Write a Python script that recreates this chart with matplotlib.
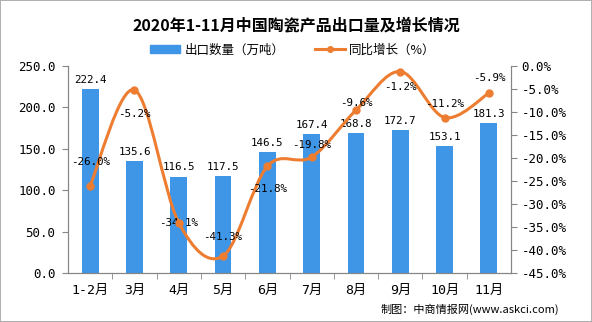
import matplotlib.pyplot as plt
from matplotlib.path import Path
from matplotlib.patches import PathPatch, Patch
from matplotlib.lines import Line2D

plt.rcParams['font.family'] = ['DejaVu Sans Mono', 'Noto Sans CJK SC']

months = ['1-2月', '3月', '4月', '5月', '6月', '7月', '8月', '9月', '10月', '11月']
export_qty = [222.4, 135.6, 116.5, 117.5, 146.5, 167.4, 168.8, 172.7, 153.1, 181.3]
yoy_growth = [-26.0, -5.2, -34.1, -41.3, -21.8, -19.8, -9.6, -1.2, -11.2, -5.9]

# label nudges (points) for the percent labels, as placed in the original
pct_dy = [17, -17, 0, 14, -16, 9, 5, -11, 10, 11]

bar_color = '#3f95e6'
line_color = '#ed7d31'
cjk = ['Noto Sans CJK SC', 'DejaVu Sans']

fig = plt.figure(figsize=(5.92, 3.22), dpi=100, linewidth=1.2, edgecolor='#b0b0b0')
ax = fig.add_axes([0.1149, 0.1522, 0.7483, 0.6428])
ax2 = ax.twinx()

x = list(range(len(months)))
ax.bar(x, export_qty, width=0.38, color=bar_color, zorder=2)
for xi, v in zip(x, export_qty):
    ax.annotate(f'{v:.1f}', (xi, v), xytext=(0, 3), textcoords='offset points',
                ha='center', va='bottom', fontsize=7.8)

ax.set_ylim(0, 250)
ax.set_yticks(range(0, 251, 50))
ax.set_yticklabels([f'{v:.1f}' for v in range(0, 251, 50)], fontsize=9)
ax.set_xlim(-0.5, len(months) - 0.5)
ax.set_xticks(x)
ax.set_xticklabels(months, fontsize=9.5)
ax.set_xticks([i + 0.5 for i in x[:-1]], minor=True)
ax.tick_params(axis='x', which='major', length=0, pad=8)
ax.tick_params(axis='x', which='minor', length=4, color='#868686')
ax.tick_params(axis='y', length=4, color='#868686', pad=5)

# smoothed line (bezier through the points)
pts = list(zip(x, yoy_growth))
verts = [pts[0]]
codes = [Path.MOVETO]
n = len(pts)
for i in range(n - 1):
    p0 = pts[i - 1] if i > 0 else pts[i]
    p1 = pts[i]
    p2 = pts[i + 1]
    p3 = pts[i + 2] if i + 2 < n else pts[i + 1]
    c1 = (p1[0] + (p2[0] - p0[0]) / 6, p1[1] + (p2[1] - p0[1]) / 6)
    c2 = (p2[0] - (p3[0] - p1[0]) / 6, p2[1] - (p3[1] - p1[1]) / 6)
    verts += [c1, c2, p2]
    codes += [Path.CURVE4] * 3
ax2.add_patch(PathPatch(Path(verts, codes), facecolor='none', edgecolor=line_color,
                        linewidth=2.2, zorder=3))
ax2.plot(x, yoy_growth, 'o', color=line_color, markersize=5, zorder=4)
for xi, v, dy in zip(x, yoy_growth, pct_dy):
    ax2.annotate(f'{v:.1f}%', (xi, v), xytext=(0, dy), textcoords='offset points',
                 ha='center', va='center', fontsize=7.8)

ax2.set_ylim(-45, 0)
ax2.set_yticks(range(-45, 1, 5))
ax2.set_yticklabels([f'{v:.1f}%' for v in range(-45, 1, 5)], fontsize=9)
ax2.tick_params(axis='y', length=4, color='#868686')

for a in (ax, ax2):
    a.spines['top'].set_visible(False)
    for s in ('left', 'right', 'bottom'):
        a.spines[s].set_color('#868686')

fig.text(0.5, 0.922, '2020年1-11月中国陶瓷产品出口量及增长情况', ha='center', va='center',
         fontsize=11.5, fontweight='bold', family=cjk)

handles = [Patch(color=bar_color),
           Line2D([], [], color=line_color, linewidth=2.2, marker='o', markersize=4)]
fig.legend(handles, ['出口数量（万吨）', '同比增长（%）'], loc='center', bbox_to_anchor=(0.495, 0.845),
           ncol=2, frameon=False, prop={'family': cjk, 'size': 9}, handlelength=2.4,
           columnspacing=2.5, handletextpad=0.3)

fig.text(0.945, 0.04, '制图：中商情报网(www.askci.com)', ha='right', va='center', fontsize=8,
         family=cjk)

fig.savefig('out.png', dpi=100)
